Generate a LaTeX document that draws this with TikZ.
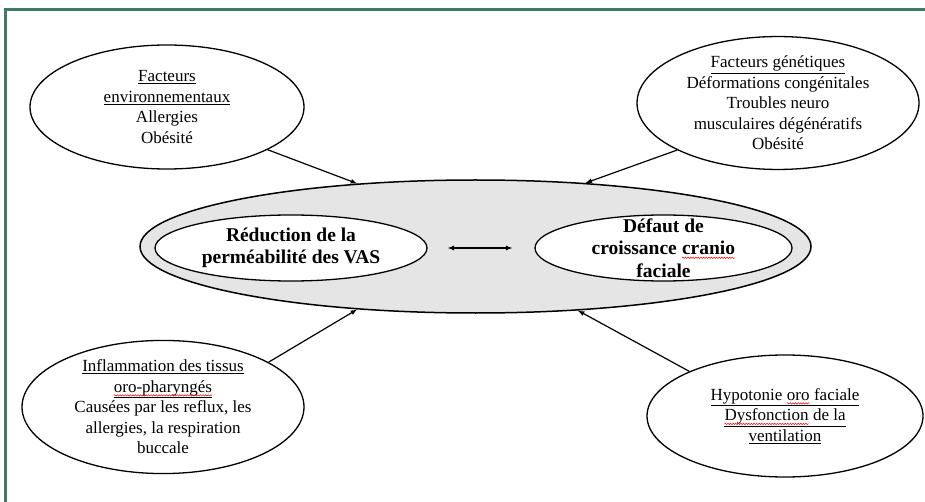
\documentclass[tikz,border=0pt]{standalone}
\usepackage{fontspec}
\setmainfont{Liberation Serif}
\usetikzlibrary{shapes.geometric,decorations.pathmorphing}
\definecolor{framegreen}{RGB}{62,125,100}
\newcommand{\spellwave}[1]{\smash{\tikz[baseline=(w.base),x=1pt,y=1pt]{%
  \node[shape=rectangle,draw=none,fill=none,inner sep=0pt,outer sep=0pt,
    minimum width=0pt,minimum height=0pt] (w) {#1};
  \draw[red,line width=0.5pt,decorate,decoration={snake,amplitude=0.7pt,segment length=2.6pt}]
    ([yshift=-3pt]w.base west) -- ([yshift=-3pt]w.base east);}}}
\tikzset{
  cause/.style={draw,ellipse,line width=1.3pt,align=center,inner sep=0pt,
    font=\fontsize{17}{20.5}\selectfont},
  effect/.style={draw,ellipse,fill=white,line width=1.3pt,inner sep=0pt},
  effecttext/.style={align=center,inner sep=0pt,font=\fontsize{19.5}{22.5}\selectfont\bfseries}
}
\begin{document}
\begin{tikzpicture}[x=1pt,y=-1pt,>=latex]
    \useasboundingbox (0,0) rectangle (925,502);
    % frame
    \draw[framegreen,line width=3pt] (5,502) -- (5,10) -- (925,10);
    % centre
    \node[draw,ellipse,fill=gray!20,line width=1.5pt,minimum width=671,minimum height=133] (big) at (475.5,246.5) {};
    \node[effect,minimum width=272,minimum height=66] (lft) at (291,248) {};
    \node[effecttext] (lfttext) at (lft.center) {R\'eduction de la\\perm\'eabilit\'e des VAS};
    \node[effect,minimum width=257,minimum height=66] (rgt) at (663.5,248) {};
    \node[effecttext] (rgttext) at (rgt.center) {D\'efaut de\\croissance \spellwave{cranio}\\faciale};
    \draw[<->,line width=1.2pt,shorten <=20pt,shorten >=22pt] (lft.east) -- (rgt.west);
    % causes
    \node[cause,minimum width=274,minimum height=124] (env) at (167,107)
      {\underline{Facteurs}\\\underline{environnementaux}\\Allergies\\Ob\'esit\'e};
    \node[cause,minimum width=282,minimum height=128] (gen) at (778,103)
      {\underline{Facteurs g\'en\'etiques}\\D\'eformations cong\'enitales\\Troubles neuro\\musculaires d\'eg\'en\'eratifs\\Ob\'esit\'e};
    \node[cause,minimum width=282,minimum height=122] (infl) at (163,407)
      {\underline{Inflammation des tissus}\\\underline{\spellwave{oro-pharyng\'es}\vphantom{gy}}\\Caus\'ees par les reflux, les\\allergies, la respiration\\buccale};
    \node[cause,minimum width=276,minimum height=122] (hypo) at (785,416)
      {\underline{Hypotonie \spellwave{oro} faciale}\\\underline{\spellwave{Dysfonction} de la\vphantom{y}}\\\underline{ventilation}};
    % arrows
    \draw[->,line width=1.2pt] (env.-23.6) -- (big.152.6);
    \draw[->,line width=1.2pt] (gen.205) -- (big.30);
    \draw[->,line width=1.2pt] (infl.23.5) -- (big.208.3);
    \draw[->,line width=1.2pt] (hypo.155.6) -- (big.328.4);
\end{tikzpicture}
\end{document}
